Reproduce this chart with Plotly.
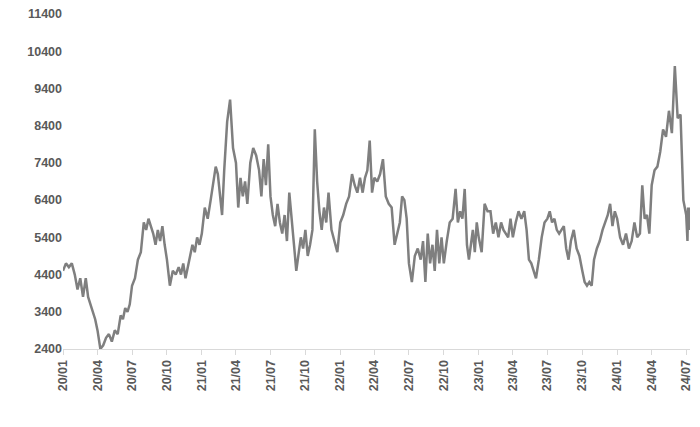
import pandas as pd
import plotly.graph_objects as go

months = ["2020-01","2020-02","2020-03","2020-04","2020-05","2020-06","2020-07","2020-08","2020-09","2020-10","2020-11","2020-12",
          "2021-01","2021-02","2021-03","2021-04","2021-05","2021-06","2021-07","2021-08","2021-09","2021-10","2021-11","2021-12",
          "2022-01","2022-02","2022-03","2022-04","2022-05","2022-06","2022-07","2022-08","2022-09","2022-10","2022-11","2022-12",
          "2023-01","2023-02","2023-03","2023-04","2023-05","2023-06","2023-07","2023-08","2023-09","2023-10","2023-11","2023-12",
          "2024-01","2024-02","2024-03","2024-04","2024-05","2024-06","2024-07"]
values = [
 [4500,4700,4600,4700],[4400,4000,4300,3800],[4300,3800,3600,3400,3200],[2900,2400,2500,2700],[2800,2600,2900,2800],
 [3300,3200,3500,3400,3600],[4100,4300,4800,5000],[5800,5600,5900,5700,5500],[5200,5600,5300,5700,5200],[4800,4100,4500,4400],
 [4600,4400,4700,4300,4600],[4900,5200,5000,5400,5200],
 [5500,6200,5900,6400],[7000,7300,7100,6500,6000],[7200,8500,9100,7800],[7400,6200,7000,6500,6900],[6300,7400,7800,7600],
 [7200,6500,7500,6800,7900],[6500,6000,5700,6300,5800],[5500,6000,5300,6600,5800],[5200,4500,5000,5400,5100],
 [5600,4900,5200,5600,8300],[6900,6100,5600,6200,5800],[6600,5600,5300,5000],
 [5800,6000,6300,6500],[7100,6800,6600,7000],[6600,7000,7200,8000,6600],[7000,6900,7100,7500],[6500,6300,6200,5200],
 [5500,5800,6500,6400,5900],[4700,4200,4900,5100],[4800,5300,4200,5500,4700],[5200,4500,5600,4700,5400],[4700,5300,5800,5900],
 [6700,5800,6100,5900,6700],[5200,4800,5200,5600,5000,5800],
 [5400,5000,6300,6100],[6100,5500,5800,5400],[5800,5600,5500,5400,5900],[5400,5800,6100,5900],[6100,5600,4800,4700,4500],
 [4300,4800,5400,5800],[5900,6100,5800,5900,5600],[5500,5600,5700,5100,4800],[5300,5600,5100,4900],[4500,4200,4100,4200,4100],
 [4800,5100,5300,5600],[5800,6000,6300,5700,6100],
 [5900,5400,5200,5500],[5100,5300,5800,5400],[5500,6800,5900,6000,5500],[6800,7200,7300,7700],[8300,8100,8800,8200],
 [10000,8600,8700,6400],[6000,5600,5300,6200,5600,6200],
]

xs, ys = [], []
for i, (m, vals) in enumerate(zip(months, values)):
    start = pd.Timestamp(m + "-01")
    span = 10 if i == len(months) - 1 else (start + pd.offsets.MonthBegin(1) - start).days
    n = len(vals)
    for k, v in enumerate(vals):
        xs.append(start + pd.Timedelta(days=span * k / n))
        ys.append(v)

fig = go.Figure(go.Scatter(x=xs, y=ys, mode="lines", line=dict(color="#7f7f7f", width=2.5)))
font = dict(family="Liberation Sans", size=12.5, color="#595959", weight="bold")
fig.update_layout(
    width=700, height=427, margin=dict(l=55, r=18, t=6, b=86, autoexpand=False),
    plot_bgcolor="white", paper_bgcolor="white", showlegend=False,
    xaxis=dict(type="date", range=["2020-01-01", "2024-07-11"], tick0="2020-01-01", dtick="M3",
               tickformat="%y/%m", tickangle=-90, showgrid=False, showline=True, linecolor="#d9d9d9",
               ticks="outside", tickcolor="#d9d9d9", ticklen=5, tickfont=font, automargin=False,
               ticklabeloverflow="allow"),
    yaxis=dict(range=[2400, 11400], tick0=2400, dtick=1000, tickformat="d", showgrid=False, zeroline=False,
               showline=False, tickfont=font, automargin=False, ticklabeloverflow="allow"),
)
fig.write_html("out.html")
